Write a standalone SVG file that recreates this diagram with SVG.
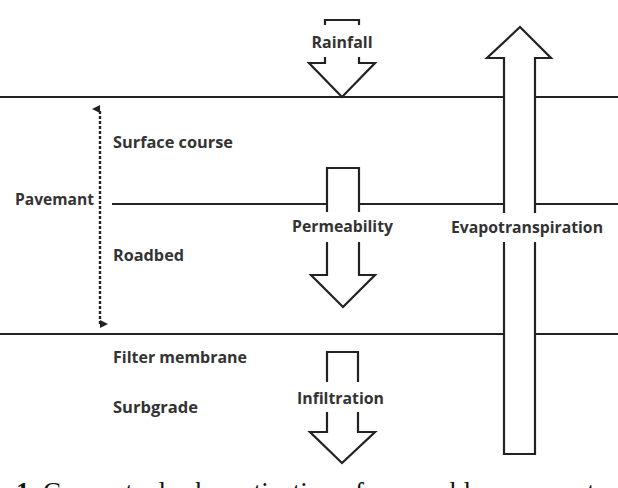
<svg xmlns="http://www.w3.org/2000/svg" width="618" height="488" viewBox="0 0 618 488">
<style>
.ln{stroke:#222;stroke-width:2.2;fill:none}
.ar{stroke:#222;stroke-width:2.2;fill:none;stroke-linejoin:miter}
.lb{font-family:"Open Sans","Noto Sans",sans-serif;font-weight:bold;font-size:16px;fill:#333}
.cap{font-family:"Liberation Serif",serif;font-size:27px;fill:#111}
</style>
<defs>
<marker id="ah" viewBox="0 0 8 8" refX="4" refY="8" markerWidth="8" markerHeight="8" markerUnits="userSpaceOnUse" orient="auto-start-reverse">
<path d="M0,8 L4,0 L8,8 Z" fill="#222"/>
</marker>
</defs>
<g id="connectors">
<path class="ln" d="M0,97 H504 M535,97 H618"/>
<path class="ln" d="M112,204 H327 M359,204 H504 M535,204 H618"/>
<path class="ln" d="M0,334 H504 M535,334 H618"/>
<path d="M100,324 V109" stroke="#222" stroke-width="2.4" stroke-dasharray="3,2" fill="none" marker-end="url(#ah)" marker-start="url(#ah)"/>
</g>
<g id="rainfall">
<path class="ar" d="M325,25 V20 H359 V25"/>
<path class="ar" d="M325,57 V63 H309 L342,97 L375,63 H359 V57"/>
<text class="lb" x="342" y="48" text-anchor="middle" textLength="61" lengthAdjust="spacingAndGlyphs">Rainfall</text>
</g>
<g id="evapotranspiration">
<path class="ar" d="M504,213 V58 H487 L520,27 L551,58 H535 V213"/>
<path class="ar" d="M504,242 V454 H535 V242"/>
<text class="lb" x="451" y="233" textLength="152" lengthAdjust="spacingAndGlyphs">Evapotranspiration</text>
</g>
<g id="permeability">
<path class="ar" d="M327,212 V168 H359 V212"/>
<path class="ar" d="M327,242 V275 H311 L343,307 L375,275 H359 V242"/>
<text class="lb" x="292" y="232" textLength="101" lengthAdjust="spacingAndGlyphs">Permeability</text>
</g>
<g id="infiltration">
<path class="ar" d="M327,382 V352 H358 V382"/>
<path class="ar" d="M327,412 V432 H310 L342,463 L375,432 H358 V412"/>
<text class="lb" x="297" y="404" textLength="87" lengthAdjust="spacingAndGlyphs">Infiltration</text>
</g>
<g id="pavemant">
<text class="lb" x="15" y="205" textLength="79" lengthAdjust="spacingAndGlyphs">Pavemant</text>
</g>
<g id="surface-course">
<text class="lb" x="113" y="148" textLength="120" lengthAdjust="spacingAndGlyphs">Surface course</text>
</g>
<g id="roadbed">
<text class="lb" x="113" y="261" textLength="71" lengthAdjust="spacingAndGlyphs">Roadbed</text>
</g>
<g id="filter-membrane">
<text class="lb" x="113" y="363" textLength="134" lengthAdjust="spacingAndGlyphs">Filter membrane</text>
</g>
<g id="surbgrade">
<text class="lb" x="113" y="413" textLength="85" lengthAdjust="spacingAndGlyphs">Surbgrade</text>
</g>
<g id="caption">
<text class="cap" x="16" y="501"><tspan font-weight="bold">1.</tspan> Conceptual schematization of permeable pavement</text>
</g>
</svg>
